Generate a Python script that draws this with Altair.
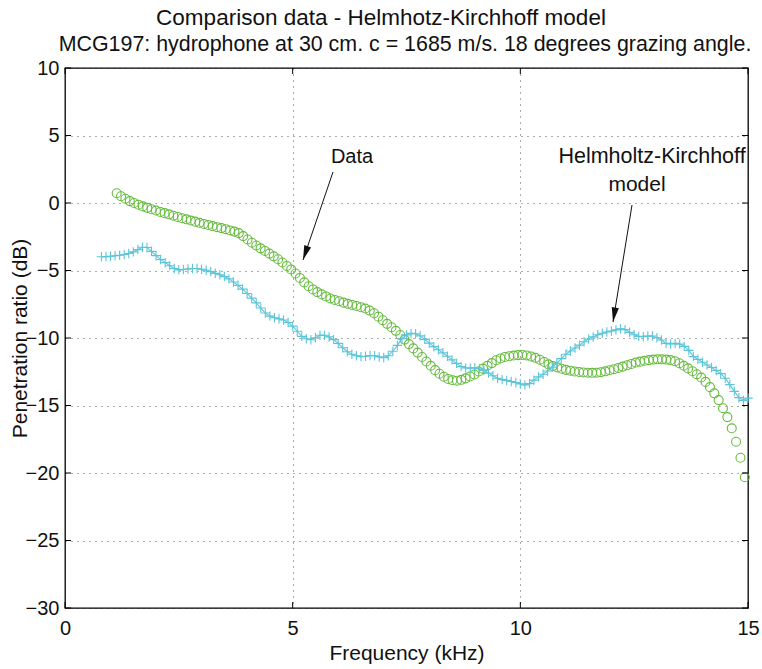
import altair as alt
import numpy as np
import pandas as pd

# Measured penetration ratio (circles): uniform frequency grid
data_f_start = 1.135   # kHz
data_f_step = 0.0958   # kHz
data_db = [
    0.72, 0.50, 0.32, 0.14, 0.00, -0.13, -0.25, -0.36, -0.46, -0.56,
    -0.66, -0.75, -0.84, -0.94, -1.04, -1.13, -1.21, -1.30, -1.38, -1.47,
    -1.55, -1.63, -1.71, -1.79, -1.86, -1.94, -2.03, -2.12, -2.23, -2.45,
    -2.70, -2.94, -3.15, -3.36, -3.55, -3.75, -3.95, -4.17, -4.41, -4.66,
    -4.92, -5.22, -5.55, -5.88, -6.17, -6.40, -6.60, -6.77, -6.92, -7.07,
    -7.18, -7.28, -7.38, -7.47, -7.55, -7.63, -7.72, -7.82, -7.97, -8.17,
    -8.42, -8.68, -8.95, -9.20, -9.47, -9.78, -10.12, -10.45, -10.77, -11.08,
    -11.41, -11.74, -12.06, -12.38, -12.65, -12.87, -13.03, -13.13, -13.16, -13.10,
    -12.99, -12.85, -12.70, -12.48, -12.27, -12.06, -11.86, -11.65, -11.52, -11.41,
    -11.35, -11.30, -11.27, -11.26, -11.29, -11.37, -11.47, -11.61, -11.78, -11.95,
    -12.08, -12.18, -12.28, -12.36, -12.42, -12.48, -12.52, -12.55, -12.57, -12.58,
    -12.57, -12.53, -12.47, -12.39, -12.31, -12.22, -12.12, -12.02, -11.92, -11.82,
    -11.75, -11.69, -11.64, -11.60, -11.58, -11.58, -11.60, -11.64, -11.72, -11.87,
    -12.06, -12.25, -12.46, -12.68, -12.93, -13.25, -13.64, -14.10, -14.60, -15.20,
    -15.86, -16.69, -17.68, -18.87, -20.32,
]

# Helmholtz-Kirchhoff model prediction (line with + markers)
model_f_start = 0.8   # kHz
model_f_step = 0.1    # kHz
model_db = [
    -3.98, -3.97, -3.94, -3.91, -3.87, -3.82, -3.74, -3.62, -3.45, -3.28,
    -3.30, -3.58, -3.90, -4.18, -4.42, -4.65, -4.85, -4.95, -4.93, -4.89,
    -4.85, -4.85, -4.91, -4.98, -5.08, -5.21, -5.32, -5.45, -5.62, -5.85,
    -6.10, -6.38, -6.70, -7.05, -7.40, -7.78, -8.15, -8.38, -8.50, -8.58,
    -8.67, -8.85, -9.12, -9.50, -9.88, -10.06, -10.13, -9.98, -9.80, -9.80,
    -9.92, -10.12, -10.40, -10.72, -11.02, -11.20, -11.32, -11.38, -11.35, -11.30,
    -11.32, -11.40, -11.45, -11.32, -10.98, -10.55, -10.05, -9.78, -9.66, -9.68,
    -9.84, -10.10, -10.38, -10.64, -10.87, -11.10, -11.35, -11.62, -11.88, -12.12,
    -12.22, -12.22, -12.21, -12.28, -12.40, -12.60, -12.80, -12.98, -13.08, -13.14,
    -13.22, -13.30, -13.40, -13.48, -13.38, -13.12, -12.88, -12.68, -12.44, -12.16,
    -11.87, -11.53, -11.20, -10.96, -10.74, -10.53, -10.28, -10.08, -9.92, -9.76,
    -9.65, -9.56, -9.48, -9.40, -9.31, -9.38, -9.58, -9.76, -9.88, -9.90,
    -9.86, -9.85, -9.98, -10.15, -10.40, -10.44, -10.40, -10.45, -10.62, -10.92,
    -11.38, -11.58, -11.80, -12.00, -12.19, -12.40, -12.64, -12.98, -13.45, -13.95,
    -14.42, -14.62, -14.45,
]

x_ticks = [0, 5, 10, 15]
y_ticks = [-30, -25, -20, -15, -10, -5, 0, 5, 10]

title_line1 = "Comparison data - Helmhotz-Kirchhoff model"
title_line2 = "MCG197: hydrophone at 30 cm. c = 1685 m/s. 18 degrees grazing angle."
label_data = "Data"
label_model_1 = "Helmholtz-Kirchhoff"
label_model_2 = "model"

FONT = "Liberation Sans"
GREEN = "#66bb3f"
CYAN = "#5ec5d9"
W, H = 683, 540

data_df = pd.DataFrame({
    "f": data_f_start + data_f_step * np.arange(len(data_db)),
    "db": data_db,
})
model_df = pd.DataFrame({
    "f": model_f_start + model_f_step * np.arange(len(model_db)),
    "db": model_db,
})

xs = alt.Scale(domain=[0, 15], nice=False, zero=False)
ys = alt.Scale(domain=[-30, 10], nice=False, zero=False)

x_axis = alt.Axis(values=x_ticks, title="Frequency (kHz)", grid=True,
                  gridDash=[1, 5], gridColor="#222", gridOpacity=0.75,
                  domain=False, ticks=False, labelPadding=10, labelFlush=False,
                  titlePadding=4, format="d")
y_axis = alt.Axis(values=y_ticks, title="Penetration ratio (dB)", grid=True,
                  gridDash=[1, 5], gridColor="#222", gridOpacity=0.75,
                  domain=False, ticks=False, labelPadding=6, labelFlush=False,
                  titleX=-45, titleY=H / 2, titleBaseline="middle",
                  titleAlign="center", titleAngle=270, format="d")

circles = alt.Chart(data_df).mark_point(
    shape="circle", filled=False, color=GREEN, strokeWidth=1.1, size=80, opacity=1
).encode(
    x=alt.X("f:Q", scale=xs, axis=x_axis),
    y=alt.Y("db:Q", scale=ys, axis=y_axis),
)

model_line = alt.Chart(model_df).mark_line(color=CYAN, strokeWidth=1.1).encode(
    x=alt.X("f:Q", scale=xs), y=alt.Y("db:Q", scale=ys)
)
model_plus = alt.Chart(model_df).mark_point(
    shape="M-1,0H1M0,-1V1", filled=False, color=CYAN, strokeWidth=1.1,
    size=90, opacity=1
).encode(x=alt.X("f:Q", scale=xs), y=alt.Y("db:Q", scale=ys))

# inward tick marks on all four sides of the frame
xt_df = pd.DataFrame({"x": x_ticks})
yt_df = pd.DataFrame({"y": y_ticks})
tick_style = dict(color="#000", strokeWidth=1)
ticks_bottom = alt.Chart(xt_df).mark_rule(**tick_style).encode(
    x=alt.X("x:Q", scale=xs), y=alt.value(H), y2=alt.value(H - 6))
ticks_top = alt.Chart(xt_df).mark_rule(**tick_style).encode(
    x=alt.X("x:Q", scale=xs), y=alt.value(0), y2=alt.value(6))
ticks_left = alt.Chart(yt_df).mark_rule(**tick_style).encode(
    y=alt.Y("y:Q", scale=ys), x=alt.value(0), x2=alt.value(6))
ticks_right = alt.Chart(yt_df).mark_rule(**tick_style).encode(
    y=alt.Y("y:Q", scale=ys), x=alt.value(W), x2=alt.value(W - 6))


def text_layer(txt, x, y, size=20):
    return alt.Chart(pd.DataFrame({"t": [txt]})).mark_text(
        font=FONT, fontSize=size, color="#111", align="center", baseline="middle"
    ).encode(text="t:N", x=alt.value(x), y=alt.value(y))


def arrow(x1, y1, x2, y2):
    ang = float(np.degrees(np.arctan2(x2 - x1, -(y2 - y1)))) % 360
    one = pd.DataFrame({"a": [0]})
    shaft = alt.Chart(one).mark_rule(color="#111", strokeWidth=1).encode(
        x=alt.value(x1), y=alt.value(y1), x2=alt.value(x2), y2=alt.value(y2))
    head = alt.Chart(one).mark_point(
        shape="M0,0L0.5,2L-0.5,2Z", filled=True, color="#111",
        size=210, opacity=1, angle=ang
    ).encode(x=alt.value(x2), y=alt.value(y2))
    return shaft + head


title1 = text_layer(title_line1, 316, -50, 22.5)
title2 = text_layer(title_line2, 340, -23, 21.4)
lab_data = text_layer(label_data, 287, 89, 20)
lab_m1 = text_layer(label_model_1, 587, 89, 21.5)
lab_m2 = text_layer(label_model_2, 572, 117, 21)
arrow_data = arrow(268, 104, 238, 192)
arrow_model = arrow(567, 137, 548, 254)

chart = alt.layer(
    circles, model_line, model_plus,
    ticks_bottom, ticks_top, ticks_left, ticks_right,
    title1, title2, lab_data, lab_m1, lab_m2, arrow_data, arrow_model,
).properties(
    width=W, height=H,
    autosize=alt.AutoSizeParams(type="none"),
    padding={"left": 65, "top": 68, "right": 14, "bottom": 61},
    background="white",
).configure_view(
    stroke="#000", strokeWidth=1.3
).configure_axis(
    labelFont=FONT, titleFont=FONT, labelFontSize=20, titleFontSize=21,
    titleFontWeight="normal", labelColor="#111", titleColor="#111",
)

chart.save("out.html", embed_options={"renderer": "svg", "actions": False})
